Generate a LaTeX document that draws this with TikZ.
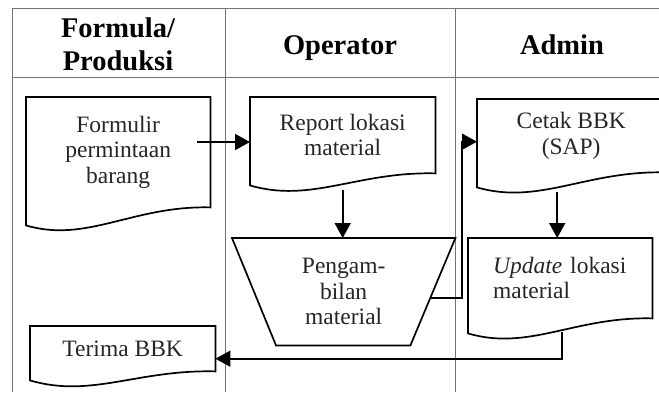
\documentclass[tikz,border=0pt]{standalone}
\usepackage{fontspec}
\setmainfont{Liberation Serif}
\usetikzlibrary{calc,arrows.meta}

% outline of a document shape around a node: wavy lower edge, left corner dropped by #2
\newcommand{\docoutline}[2]{%
  \draw[shapeline] (#1.south east) -- (#1.north east) -- (#1.north west) -- ([yshift=-#2]#1.south west)
    .. controls ($(#1.south west)!0.33!(#1.south east)+(0pt,-#2-18pt)$) and ($(#1.south west)!0.58!(#1.south east)+(0pt,2pt)$) .. (#1.south east) -- cycle;}

\begin{document}
\begin{tikzpicture}[x=1pt,y=-1pt,
    lane/.style={draw=black!55,line width=1pt},
    shapeline/.style={draw=black,line width=1.7pt,line join=miter},
    hdr/.style={font=\bfseries\fontsize{28.5}{33}\selectfont,align=center,inner sep=0pt},
    box/.style={inner sep=0pt,align=center,anchor=north west,font=\fontsize{23.5}{25.5}\selectfont,text=black!85},
    flow/.style={line width=1.7pt,-{Triangle[length=15pt,width=16pt]}}]
  \useasboundingbox (0,0) rectangle (659,392);
  \clip (0,0) rectangle (659,392);

  % swimlanes
  \draw[lane] (12,392) -- (12,8) -- (659,8);
  \draw[lane] (12,77) -- (659,77);
  \draw[lane] (225,8) -- (225,392);
  \draw[lane] (455,8) -- (455,392);
  \node[hdr] (hprod) at (118,44) {Formula/\\Produksi};
  \node[hdr,anchor=base] (hoper) at (340,54) {Operator};
  \node[hdr,anchor=base] (hadmin) at (562,54) {Admin};

  % shapes
  \node[box,minimum width=184pt,minimum height=110pt] (formulir) at (26,97) {Formulir\\permintaan\\barang};
  \docoutline{formulir}{18pt}
  \node[box,minimum width=185pt,minimum height=76pt] (report) at (250,97) {Report lokasi\\material};
  \docoutline{report}{12pt}
  \node[box,minimum width=188pt,minimum height=73pt] (cetak) at (477,99) {Cetak BBK\\(SAP)};
  \docoutline{cetak}{15pt}
  \node[box,minimum width=223pt,minimum height=107pt] (ambil) at (232,238) {Pengam-\\bilan\\material};
  \draw[shapeline] (ambil.north west) -- (ambil.north east) -- ([xshift=-45pt]ambil.south east)
    -- ([xshift=44pt]ambil.south west) -- cycle;
  \node[box,minimum width=184pt,minimum height=80pt,text width=134pt,align=left] (update) at (468,238) {\textit{Update} lokasi\\material};
  \docoutline{update}{15pt}
  \node[box,minimum width=185pt,minimum height=45pt] (terima) at (30,326) {Terima BBK};
  \docoutline{terima}{9pt}

  % connectors
  \coordinate (f2r) at (197,142);
  \draw[flow] (f2r) -- (f2r -| report.west);
  \draw[flow] ([yshift=-17pt]report.south) -- (report.south |- ambil.north);
  \coordinate (a2c) at (430,298);
  \draw[flow] (a2c) -- ++(32,0) |- ([yshift=-6pt]cetak.west);
  \draw[flow] ([xshift=-3pt,yshift=-20pt]update.north |- cetak.south) -- ([xshift=-3pt]update.north);
  \draw[flow] ([xshift=2pt,yshift=-14pt]update.south) |- ([yshift=-10pt]terima.east);
\end{tikzpicture}
\end{document}
